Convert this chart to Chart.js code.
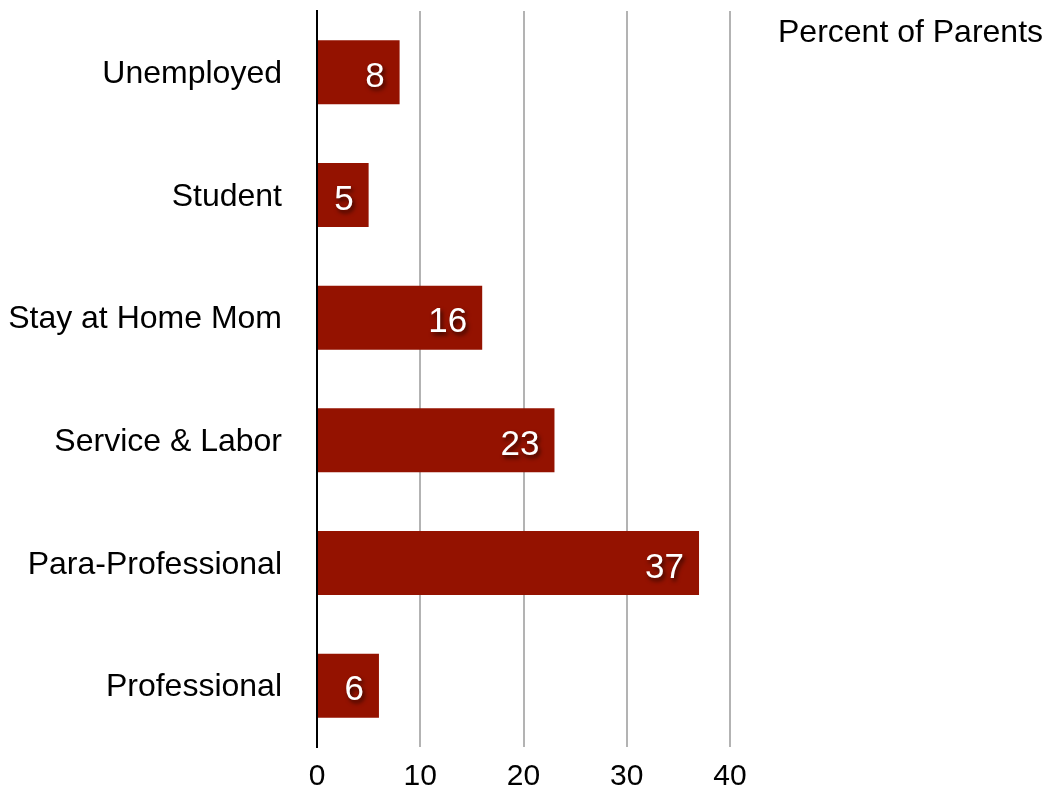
<!DOCTYPE html>
<html>
<head>
<meta charset="utf-8">
<title>Percent of Parents by Occupation</title>
<script src="https://cdn.jsdelivr.net/npm/chart.js@4/dist/chart.umd.min.js"></script>
<style>
  html, body { margin: 0; padding: 0; background: #ffffff; }
  #wrap { width: 1047px; height: 792px; position: relative; }
</style>
</head>
<body>
<div id="wrap"><canvas id="chart" width="1047" height="792"></canvas></div>
<script>
// Occupation categories, top to bottom
const categories = ['Unemployed', 'Student', 'Stay at Home Mom', 'Service & Labor', 'Para-Professional', 'Professional'];
// Percent of parents in each category
const percentValues = [8, 5, 16, 23, 37, 6];
const seriesLabel = 'Percent of Parents';
const axisMax = 40;
const axisStep = 10;

const FONT = '"Liberation Sans", Arial, Helvetica, sans-serif';
const BAR_COLOR = '#941200';

// White value labels with a soft drop shadow, right-aligned inside each bar
const valueLabels = {
  id: 'valueLabels',
  afterDatasetsDraw(chart) {
    const ctx = chart.ctx;
    const meta = chart.getDatasetMeta(0);
    const data = chart.data.datasets[0].data;
    ctx.save();
    ctx.font = '35px ' + FONT;
    ctx.fillStyle = '#ffffff';
    ctx.textAlign = 'right';
    ctx.textBaseline = 'alphabetic';
    ctx.shadowColor = 'rgba(0,0,0,0.65)';
    ctx.shadowOffsetX = 2;
    ctx.shadowOffsetY = 3;
    ctx.shadowBlur = 4;
    meta.data.forEach((bar, i) => {
      ctx.fillText(String(data[i]), bar.x - 15, bar.y + 14.5);
    });
    ctx.restore();
  }
};

// Series name in the upper right corner
const seriesTitle = {
  id: 'seriesTitle',
  afterDraw(chart) {
    const ctx = chart.ctx;
    ctx.save();
    ctx.font = '32px ' + FONT;
    ctx.fillStyle = '#000000';
    ctx.textAlign = 'left';
    ctx.textBaseline = 'alphabetic';
    ctx.fillText(chart.data.datasets[0].label, 778, 41.5);
    ctx.restore();
  }
};

new Chart(document.getElementById('chart'), {
  type: 'bar',
  data: {
    labels: categories,
    datasets: [{
      label: seriesLabel,
      data: percentValues,
      backgroundColor: BAR_COLOR,
      borderWidth: 0,
      barPercentage: 0.522,
      categoryPercentage: 1.0
    }]
  },
  options: {
    indexAxis: 'y',
    responsive: false,
    animation: false,
    devicePixelRatio: 1,
    layout: { padding: { top: 11, right: 317, left: 0, bottom: 0 } },
    plugins: {
      legend: { display: false },
      tooltip: { enabled: false }
    },
    scales: {
      x: {
        min: 0,
        max: axisMax,
        afterFit(scale) {
          scale.height = 45;
          scale.paddingLeft = 0;
          scale.paddingRight = 0;
        },
        ticks: {
          stepSize: axisStep,
          color: '#000000',
          padding: 12,
          font: { family: FONT, size: 30 }
        },
        grid: {
          drawTicks: false,
          lineWidth: 2,
          color: (c) => c.index === 0 ? 'rgba(0,0,0,0)' : '#b3b3b3'
        },
        border: { display: false }
      },
      y: {
        afterFit(scale) {
          scale.width = 317;
          scale.paddingTop = 0;
          scale.paddingBottom = 0;
        },
        ticks: {
          color: '#000000',
          padding: 35,
          labelOffset: 2,
          font: { family: FONT, size: 32 }
        },
        grid: { display: false, drawTicks: false },
        border: { display: true, color: '#000000', width: 2 }
      }
    }
  },
  plugins: [valueLabels, seriesTitle]
});
</script>
</body>
</html>
